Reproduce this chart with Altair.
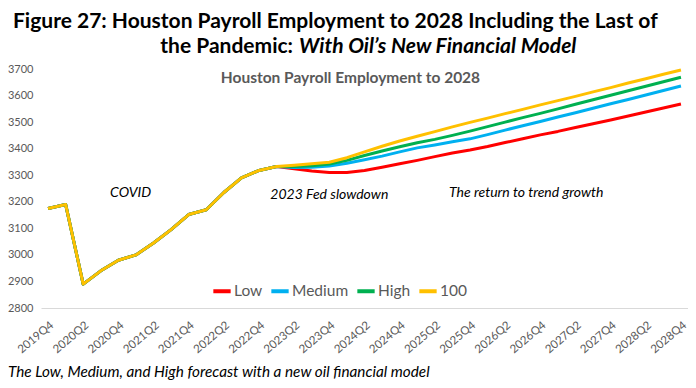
import altair as alt
import pandas as pd

quarters = ["2019Q4",
            "2020Q1", "2020Q2", "2020Q3", "2020Q4",
            "2021Q1", "2021Q2", "2021Q3", "2021Q4",
            "2022Q1", "2022Q2", "2022Q3", "2022Q4",
            "2023Q1", "2023Q2", "2023Q3", "2023Q4",
            "2024Q1", "2024Q2", "2024Q3", "2024Q4",
            "2025Q1", "2025Q2", "2025Q3", "2025Q4",
            "2026Q1", "2026Q2", "2026Q3", "2026Q4",
            "2027Q1", "2027Q2", "2027Q3", "2027Q4",
            "2028Q1", "2028Q2", "2028Q3", "2028Q4"]

history = [3175, 3190, 2890, 2940, 2980, 3000, 3045, 3095, 3152, 3170,
           3235, 3290, 3318, 3333]

low_fc = [3324, 3316, 3310, 3310, 3318, 3330, 3343, 3356, 3370, 3384, 3395, 3408,
          3423, 3437, 3452, 3465, 3480, 3494, 3508, 3523, 3538, 3553, 3568]
medium_fc = [3329, 3330, 3335, 3345, 3358, 3372, 3388, 3403, 3414, 3426, 3437, 3453,
             3470, 3486, 3502, 3519, 3535, 3552, 3569, 3585, 3602, 3619, 3636]
high_fc = [3333, 3336, 3342, 3356, 3374, 3391, 3407, 3422, 3435, 3450, 3466, 3483,
           3500, 3517, 3533, 3550, 3567, 3584, 3601, 3618, 3635, 3652, 3669]
h100_fc = [3338, 3343, 3349, 3366, 3388, 3409, 3429, 3447, 3464, 3482, 3499, 3515,
           3532, 3548, 3565, 3581, 3597, 3614, 3630, 3647, 3663, 3680, 3696]

series_names = ["Low", "Medium", "High", "100"]
series_colors = ["#FF0000", "#00B0F0", "#00B050", "#FFC000"]
forecasts = [low_fc, medium_fc, high_fc, h100_fc]

y_ticks = [2800, 2900, 3000, 3100, 3200, 3300, 3400, 3500, 3600, 3700]

# annotations: text, quarter index position, value position
ann_text = ["COVID", "2023 Fed slowdown", "The return to trend growth"]
ann_x = [4.7, 16.0, 27.2]
ann_y = [3233, 3226, 3233]

inner_title = "Houston Payroll Employment to 2028"
title_line1 = "Figure 27: Houston Payroll Employment to 2028 Including the Last of"
title_line2a = "the Pandemic:"
title_line2b = "With Oil\u2019s New Financial Model"
footnote_text = "The Low, Medium, and High forecast with a new oil financial model"

rows = []
for name, fc in zip(series_names, forecasts):
    for i, v in enumerate(history + fc):
        rows.append({"series": name, "qi": i, "quarter": quarters[i], "value": v})
df = pd.DataFrame(rows)

label_js = "[" + ",".join("'%s'" % q for q in quarters) + "][datum.value]"

FONT = "Lato"
GRAY = "#595959"

x_scale = alt.Scale(domain=[-0.4, len(quarters) - 1 + 0.4], nice=False, zero=False)
y_scale = alt.Scale(domain=[2800, 3700], nice=False, zero=False)

x_axis = alt.Axis(title=None, values=list(range(0, len(quarters), 2)),
                  labelExpr=label_js, labelAngle=-40, labelAlign="right",
                  labelBaseline="top", labelPadding=11, ticks=False, grid=False,
                  domainColor="#D9D9D9", domainWidth=1, labelColor=GRAY,
                  labelFontSize=11.5, labelFont=FONT, labelOverlap=False)
y_axis = alt.Axis(title=None, values=y_ticks, format="d", ticks=False,
                  grid=False, domain=False, labelColor=GRAY, labelFontSize=11,
                  labelFont=FONT, labelPadding=8, labelOverlap=False)


def xenc():
    return alt.X("qi:Q", scale=x_scale, axis=x_axis)


def yenc():
    return alt.Y("value:Q", scale=y_scale, axis=y_axis)


lines = alt.Chart(df).mark_line(strokeWidth=3, strokeJoin="round").encode(
    x=xenc(),
    y=yenc(),
    color=alt.Color("series:N",
                    scale=alt.Scale(domain=series_names, range=series_colors),
                    legend=alt.Legend(title=None, orient="none", legendX=170, legendY=211,
                                      direction="horizontal", symbolType="stroke",
                                      symbolStrokeWidth=4, symbolSize=300,
                                      labelFontSize=15.5, labelColor=GRAY, labelFont=FONT,
                                      labelOffset=1, columnPadding=0)),
    detail="series:N",
)

ann_df = pd.DataFrame({"text": ann_text, "qi": ann_x, "value": ann_y})
annotations = alt.Chart(ann_df).mark_text(
    font=FONT, fontSize=14, fontStyle="italic", color="#000000", baseline="middle"
).encode(x=xenc(), y=yenc(), text="text:N")

title_df = pd.DataFrame({"text": [inner_title], "qi": [17.2], "value": [3666]})
inner = alt.Chart(title_df).mark_text(
    font=FONT, fontSize=15.5, fontWeight="bold", color=GRAY, baseline="middle"
).encode(x=xenc(), y=yenc(), text="text:N")

fig_line1 = alt.Chart(pd.DataFrame({"t": [title_line1]})).mark_text(
    font=FONT, fontSize=21, fontWeight="bold", color="#000000", align="left", baseline="alphabetic"
).encode(text="t:N", x=alt.value(-28), y=alt.value(-41))
fig_line2a = alt.Chart(pd.DataFrame({"t": [title_line2a]})).mark_text(
    font=FONT, fontSize=21, fontWeight="bold", color="#000000", align="right", baseline="alphabetic"
).encode(text="t:N", x=alt.value(252), y=alt.value(-16))
fig_line2b = alt.Chart(pd.DataFrame({"t": [title_line2b]})).mark_text(
    font=FONT, fontSize=21, fontWeight="bold", fontStyle="italic", color="#000000",
    align="left", baseline="alphabetic"
).encode(text="t:N", x=alt.value(258), y=alt.value(-16))

footnote = alt.Chart(pd.DataFrame({"t": [footnote_text]})).mark_text(
    font=FONT, fontSize=15.3, fontStyle="italic", color="#000000", align="left", baseline="alphabetic"
).encode(text="t:N", x=alt.value(-33), y=alt.value(308))

chart = alt.layer(lines, annotations, inner, fig_line1, fig_line2a, fig_line2b, footnote).properties(
    width=647, height=239,
    autosize=alt.AutoSizeParams(type="none"),
    padding={"left": 33, "top": 61, "right": 0, "bottom": 72},
    background="#FFFFFF",
).configure_view(stroke=None)

chart.save("out.html", embed_options={"renderer": "svg", "actions": False})
